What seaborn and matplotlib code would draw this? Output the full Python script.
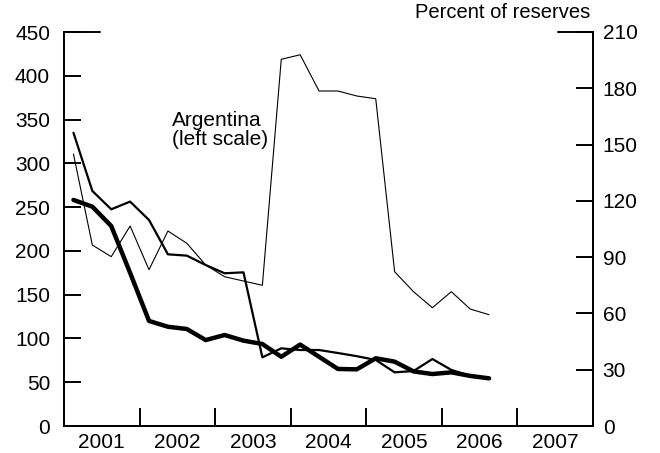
import numpy as np
import pandas as pd
import matplotlib
matplotlib.use("Agg")
import matplotlib.pyplot as plt
import seaborn as sns

# ---- data (quarterly, 2001Q1 - 2006Q3) ----
quarters = [f"{y}Q{q}" for y in range(2001, 2007) for q in range(1, 5)][:23]
argentina_left = [310.6, 206.7, 193.4, 228.4, 178.5, 222.7, 208.7, 183.9, 170.5, 165.6,
                  160.7, 418.8, 424.0, 382.6, 382.6, 376.9, 373.8, 176.2, 153.4, 135.1,
                  153.4, 133.6, 127.1]
medium_right = [156.3, 125.3, 115.5, 119.6, 109.8, 91.5, 90.8, 85.8, 81.4, 81.9,
                36.6, 41.4, 40.5, 40.5, 38.9, 37.2, 35.2, 28.6, 29.3, 35.7,
                29.9, 26.7, 25.4]
thick_right = [120.5, 116.9, 106.6, 81.6, 56.0, 52.9, 51.7, 45.8, 48.5, 45.5,
               43.7, 36.9, 43.4, 36.9, 30.4, 30.2, 36.1, 34.3, 29.1, 27.7,
               28.6, 26.7, 25.4]
year_labels = ["2001", "2002", "2003", "2004", "2005", "2006", "2007"]
left_ticks = [0, 50, 100, 150, 200, 250, 300, 350, 400, 450]
right_ticks = [0, 30, 60, 90, 120, 150, 180, 210]

per = pd.PeriodIndex(quarters, freq="Q")
xpos = per.year + (per.quarter - 0.5) / 4.0
df = pd.DataFrame({"x": xpos, "arg": argentina_left,
                   "med": medium_right, "thick": thick_right})

sns.set_theme(style="white")
plt.rcParams["font.family"] = ["Liberation Sans", "DejaVu Sans"]
FS = 15

fig = plt.figure(figsize=(6.6, 4.53), dpi=100)
ax = fig.add_axes([64/660, 27/453, (593-64)/660, (426-32)/453])
ax2 = ax.twinx()

sns.lineplot(data=df, x="x", y="arg", ax=ax, color="black", linewidth=0.8)
sns.lineplot(data=df, x="x", y="med", ax=ax2, color="black", linewidth=1.6)
sns.lineplot(data=df, x="x", y="thick", ax=ax2, color="black", linewidth=3.2)

years = [int(y) for y in year_labels]
ax.set_xlim(years[0], years[-1] + 1)
ax.set_ylim(0, 450)
ax2.set_ylim(0, 210)

ax.set_yticks(left_ticks)
ax.set_yticklabels([str(t) for t in left_ticks])
ax2.set_yticks(right_ticks)
ax2.set_yticklabels([str(t) for t in right_ticks])

ax.set_xticks(years[1:])
ax.set_xticklabels([])
ax.set_xticks([y + 0.5 for y in years], minor=True)
ax.set_xticklabels(year_labels, minor=True)

for a in (ax, ax2):
    a.set_xlabel("")
    a.set_ylabel("")
    for s in a.spines.values():
        s.set_linewidth(1.4)
        s.set_color("black")
    a.spines["top"].set_visible(False)

ax.tick_params(axis="x", which="major", direction="in", length=13, width=1.4,
               color="black", bottom=True)
ax.tick_params(axis="x", which="minor", length=0, pad=5, labelsize=FS,
               labelcolor="black", bottom=True)
ax.tick_params(axis="y", direction="in", length=12.5, width=1.4, color="black",
               labelsize=FS, pad=10, left=True, labelcolor="black")
ax2.tick_params(axis="y", direction="in", length=12.5, width=1.4, color="black",
                labelsize=FS, pad=7, right=True, labelcolor="black")

# long top tick marks
ax.axhline(450, xmin=0, xmax=36/529, color="black", linewidth=1.4, clip_on=False)
ax.axhline(450, xmin=1-35/529, xmax=1, color="black", linewidth=1.4, clip_on=False)

ax.text(2002.43, 338, "Argentina\n(left scale)", ha="left", va="center",
        fontsize=FS, linespacing=0.95, color="black")
fig.text(590/660, 1 - 12/453, "Percent of reserves", ha="right", va="center",
         fontsize=14.5, color="black")

fig.savefig("out.png", dpi=100)
